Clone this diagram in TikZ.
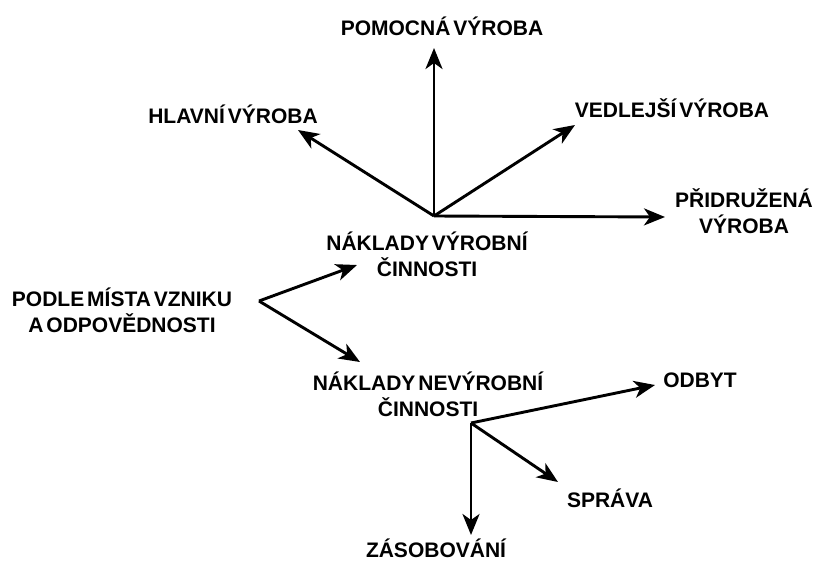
\documentclass[tikz,border=0pt]{standalone}
\usepackage{fontspec}
\setmainfont{Liberation Sans}
\usetikzlibrary{arrows.meta}
\newcommand\lblfont{\fontsize{21}{26}\selectfont\bfseries\spaceskip=0.14em\relax}

\begin{document}
\begin{tikzpicture}[x=1pt, y=-1pt,
  lbl/.style={anchor=base, inner sep=0pt, align=center, font=\lblfont},
  arr/.style={line width=2.9pt, -{Stealth[length=21pt, width=17pt, inset=6pt]}}]
\useasboundingbox (0,0) rectangle (818,562);

% labels (base = baseline of the last line)
\node[lbl] (pomocna) at (442,35) {POMOCNÁ VÝROBA};
\node[lbl] (hlavni) at (233,123) {HLAVNÍ VÝROBA};
\node[lbl] (vedlejsi) at (672,117) {VEDLEJŠÍ VÝROBA};
\node[lbl] (pridruzena) at (744,233) {PŘIDRUŽENÁ\\VÝROBA};
\node[lbl] (vyrobni) at (427,276) {NÁKLADY VÝROBNÍ\\ČINNOSTI};
\node[lbl] (podle) at (122,332) {PODLE MÍSTA VZNIKU\\A ODPOVĚDNOSTI};
\node[lbl] (nevyrobni) at (428,416) {NÁKLADY NEVÝROBNÍ\\ČINNOSTI};
\node[lbl] (odbyt) at (700,387) {ODBYT};
\node[lbl] (sprava) at (610,507) {SPRÁVA};
\node[lbl] (zasobovani) at (436,557) {ZÁSOBOVÁNÍ};

% hubs and arrow ends
\coordinate (rootout) at (259,301);
\coordinate (vhub) at (434,216);
\coordinate (nhub) at (471,423);
\coordinate (vyrobni-in) at (357,265);
\coordinate (nevyrobni-in) at (360,362);
\coordinate (pomocna-in) at (434,48);
\coordinate (hlavni-in) at (298,130);
\coordinate (vedlejsi-in) at (575,125);
\coordinate (pridruzena-in) at (665,217);
\coordinate (odbyt-in) at (655,385);
\coordinate (sprava-in) at (558,482);
\coordinate (zasobovani-in) at (471,535);

% arrows
\draw[arr] (rootout) -- (vyrobni-in);
\draw[arr] (rootout) -- (nevyrobni-in);
\draw[arr] (vhub) -- (pomocna-in);
\draw[arr] (vhub) -- (hlavni-in);
\draw[arr] (vhub) -- (vedlejsi-in);
\draw[arr] (vhub) -- (pridruzena-in);
\draw[arr] (nhub) -- (odbyt-in);
\draw[arr] (nhub) -- (sprava-in);
\draw[arr] (nhub) -- (zasobovani-in);
\end{tikzpicture}
\end{document}
